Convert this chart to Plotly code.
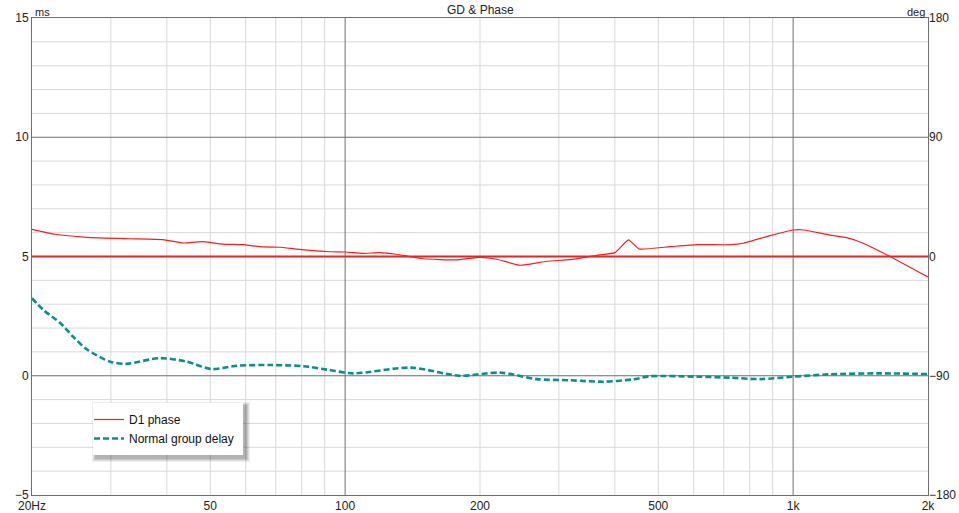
import plotly.graph_objects as go

# ---- data ----
phase_freq = [20, 22.5, 26.5, 33.1, 39.2, 43.5, 47.8, 53.4, 59.2, 65.6, 71.6, 78, 92.5,
              100, 109.6, 119.6, 130, 149, 177, 200, 218, 246, 282, 318, 364, 400, 429,
              453, 531, 609, 723, 774, 888, 1000, 1058, 1208, 1317, 1434, 1645, 2000]
phase_deg = [20.5, 16.8, 14.5, 13.4, 12.7, 10.2, 11.2, 9.4, 8.9, 7.2, 7.0, 5.6, 3.6,
             3.4, 2.4, 2.9, 1.7, -1.7, -2.6, -0.6, -2.1, -6.6, -3.6, -2.4, 0.9, 2.9, 12.5,
             5.7, 7.4, 8.9, 8.9, 10.0, 15.7, 20.0, 20.0, 16.2, 14.2, 10.0, 0.0, -15.5]

gd_freq = [20, 21.2, 23.1, 24.7, 26.5, 29.9, 32.5, 38.6, 44.3, 50.4, 57.3, 68, 80.7, 91.7,
           104, 140, 180, 222, 268, 318, 377, 440, 479, 609, 723, 843, 1000, 1208, 1563, 2000]
gd_ms = [3.25, 2.76, 2.22, 1.64, 1.11, 0.59, 0.50, 0.74, 0.59, 0.28, 0.42, 0.45, 0.40, 0.25,
         0.10, 0.34, 0.0, 0.13, -0.14, -0.19, -0.25, -0.15, -0.02, -0.04, -0.08, -0.14,
         -0.04, 0.06, 0.10, 0.07]

x_tick_vals = [20, 50, 100, 200, 500, 1000, 2000]
x_tick_text = ["20Hz", "50", "100", "200", "500", "1k", "2k"]
x_minor_vals = [30, 40, 50, 60, 70, 80, 90, 200, 300, 400, 500, 600, 700, 800, 900]
x_major_grid = [100, 1000]
ms_ticks = [-5, 0, 5, 10, 15]
ms_minor = [-4, -3, -2, -1, 1, 2, 3, 4, 6, 7, 8, 9, 11, 12, 13, 14]
ms_major_grid = [0, 10]
deg_ticks = [-180, -90, 0, 90, 180]
ref_ms = 5

FONT = "Liberation Sans, Arial, sans-serif"
DARK = "#6e6e6e"
LIGHT = "#d9d9d9"

fig = go.Figure()
fig.add_trace(go.Scatter(x=phase_freq, y=phase_deg, yaxis="y2", mode="lines",
                         name="D1 phase", line=dict(color="#ff1a1a", width=1.2, shape="spline", smoothing=0.4)))
fig.add_trace(go.Scatter(x=gd_freq, y=gd_ms, mode="lines", name="Normal group delay",
                         line=dict(color="#0a8f8f", width=2.6, dash="6px,3px", shape="spline", smoothing=0.8)))

shapes = []
for v in x_minor_vals:
    shapes.append(dict(type="line", xref="x", yref="paper", x0=v, x1=v, y0=0, y1=1,
                       line=dict(color=LIGHT, width=1), layer="below"))
for v in ms_minor:
    shapes.append(dict(type="line", xref="paper", yref="y", x0=0, x1=1, y0=v, y1=v,
                       line=dict(color=LIGHT, width=1), layer="below"))
for v in x_major_grid:
    shapes.append(dict(type="line", xref="x", yref="paper", x0=v, x1=v, y0=0, y1=1,
                       line=dict(color=DARK, width=1), layer="below"))
for v in ms_major_grid:
    shapes.append(dict(type="line", xref="paper", yref="y", x0=0, x1=1, y0=v, y1=v,
                       line=dict(color=DARK, width=1), layer="below"))
shapes.append(dict(type="line", xref="paper", yref="y", x0=0, x1=1, y0=ref_ms, y1=ref_ms,
                   line=dict(color="#e02828", width=2), layer="below"))

# legend box with a soft shadow
lx0, ly1 = 61 / 896, 92 / 477
lw, lh = 150 / 896, 52 / 477
for i, op in enumerate([0.10, 0.09, 0.08, 0.06]):
    d = (i + 1) / 896
    dy = (i + 1) / 477
    shapes.append(dict(type="rect", xref="paper", yref="paper",
                       x0=lx0 + 3 / 896 - d, x1=lx0 + lw + 3 / 896 + d,
                       y0=ly1 - lh - 3 / 477 - dy, y1=ly1 - 3 / 477 + dy,
                       fillcolor="black", opacity=op, line=dict(width=0), layer="above"))
shapes.append(dict(type="rect", xref="paper", yref="paper", x0=lx0, x1=lx0 + lw,
                   y0=ly1 - lh, y1=ly1, fillcolor="white", line=dict(width=0), layer="above"))

fig.update_layout(
    width=959, height=513,
    margin=dict(l=32, r=31, t=18, b=18, autoexpand=False),
    paper_bgcolor="white", plot_bgcolor="white",
    font=dict(family=FONT, size=12, color="#222"),
    showlegend=True,
    legend=dict(x=lx0 - 4 / 896, y=ly1 - 2 / 477, xanchor="left", yanchor="top",
                bgcolor="rgba(255,255,255,0)", borderwidth=0, font=dict(size=12, color="#111"),
                tracegroupgap=0, itemwidth=30),
    xaxis=dict(type="log", range=[1.30103, 3.30103], tickvals=x_tick_vals, ticktext=x_tick_text,
               showgrid=False, ticks="", showline=True, mirror=True, linecolor=DARK, linewidth=1,
               zeroline=False, tickfont=dict(size=12), automargin=False),
    yaxis=dict(range=[-5, 15], tickvals=ms_ticks, showgrid=False,
               ticks="", showline=True, mirror=True, linecolor=DARK, zeroline=False,
               automargin=False),
    yaxis2=dict(range=[-180, 180], tickvals=deg_ticks, overlaying="y", side="right",
                showgrid=False, ticks="", zeroline=False, showline=False, automargin=False),
    shapes=shapes,
    annotations=[
        dict(text="GD &amp; Phase", xref="paper", yref="paper", x=0.5, y=1, xanchor="center",
             yanchor="bottom", showarrow=False, yshift=-1, font=dict(size=12)),
        dict(text="ms", xref="paper", yref="paper", x=0, y=1, xanchor="left", yanchor="bottom",
             showarrow=False, xshift=1, yshift=-2, font=dict(size=11)),
        dict(text="deg", xref="paper", yref="paper", x=1, y=1, xanchor="right", yanchor="bottom",
             showarrow=False, xshift=-1, yshift=-2, font=dict(size=11)),
    ],
)

fig.write_html("out.html", config={"displayModeBar": False},
               post_script="document.body.style.margin='0';document.body.style.padding='0';"
                           "document.documentElement.style.overflow='hidden';")
